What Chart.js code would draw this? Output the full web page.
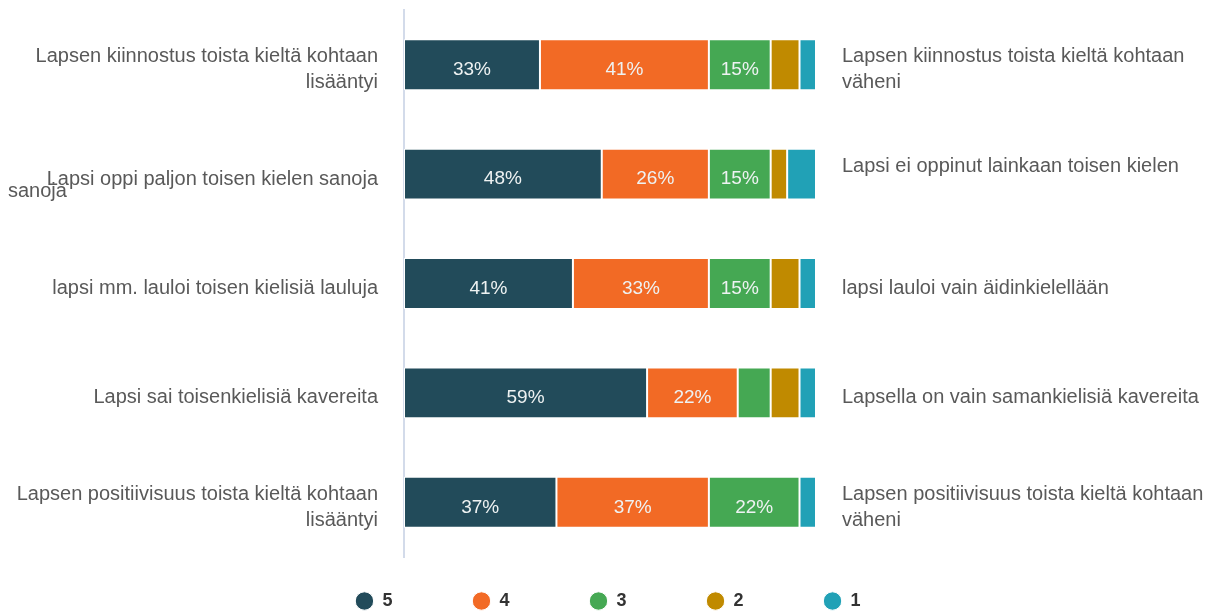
<!DOCTYPE html>
<html>
<head>
<meta charset="utf-8">
<script src="https://cdn.jsdelivr.net/npm/chart.js@4/dist/chart.umd.min.js"></script>
<style>
  html, body { margin: 0; padding: 0; background: #ffffff; }
  #wrap { width: 1208px; height: 611px; position: relative; }
</style>
</head>
<body>
<div id="wrap"><canvas id="c" width="1208" height="611"></canvas></div>
<script>
// ---- data ----
const leftLabels = [
  ["Lapsen kiinnostus toista kieltä kohtaan", "lisääntyi"],
  "Lapsi oppi paljon toisen kielen sanoja",
  "lapsi mm. lauloi toisen kielisiä lauluja",
  "Lapsi sai toisenkielisiä kavereita",
  ["Lapsen positiivisuus toista kieltä kohtaan", "lisääntyi"]
];
const rightLabels = [
  ["Lapsen kiinnostus toista kieltä kohtaan", "väheni"],
  ["Lapsi ei oppinut lainkaan toisen kielen", "sanoja"],
  "lapsi lauloi vain äidinkielellään",
  "Lapsella on vain samankielisiä kavereita",
  ["Lapsen positiivisuus toista kieltä kohtaan", "väheni"]
];
const seriesNames = ["5", "4", "3", "2", "1"];
const values5 = [33, 48, 41, 59, 37];
const values4 = [41, 26, 33, 22, 37];
const values3 = [15, 15, 15, 8, 22];
const values2 = [7, 4, 7, 7, 0];
const values1 = [4, 7, 4, 4, 4];
const colors = ["#224b5a", "#f26a25", "#45a853", "#c08a00", "#21a1b6"];

const allValues = [values5, values4, values3, values2, values1];
const TXT = "#595959";
const FONT = "'Liberation Sans', Arial, sans-serif";
const LABEL_SIZE = 20;
const LABEL_LH = 1.28;
const LABEL_DY = 5;
const LEFT_PAD = 8;

const datasets = allValues.map((v, i) => ({
  label: seriesNames[i],
  data: v,
  backgroundColor: colors[i],
  borderColor: "#ffffff",
  borderWidth: 1,
  borderSkipped: false,
  barPercentage: 0.465,
  categoryPercentage: 1.0
}));

// value labels inside bars
const valueLabels = {
  id: "valueLabels",
  afterDatasetsDraw(chart) {
    const ctx = chart.ctx;
    ctx.save();
    ctx.font = "19px " + FONT;
    ctx.fillStyle = "#eef2f2";
    ctx.textAlign = "center";
    ctx.textBaseline = "middle";
    chart.data.datasets.forEach((ds, di) => {
      const meta = chart.getDatasetMeta(di);
      meta.data.forEach((el, i) => {
        const v = ds.data[i];
        if (v >= 10) {
          const p = el.getCenterPoint();
          ctx.fillText(v + "%", p.x, p.y + 5);
        }
      });
    });
    ctx.restore();
  }
};

// the second line of the second right-hand label appears at the far left in the reference
const strayLine = {
  id: "strayLine",
  afterDraw(chart) {
    const s = chart.scales.y2;
    const lab = rightLabels[1];
    const ctx = chart.ctx;
    ctx.save();
    ctx.font = LABEL_SIZE + "px " + FONT;
    ctx.fillStyle = TXT;
    ctx.textAlign = "left";
    ctx.textBaseline = "middle";
    const lh = LABEL_SIZE * LABEL_LH;
    ctx.fillText(lab[1], 8, s.getPixelForTick(1) + lh / 2 + LABEL_DY);
    ctx.restore();
  }
};

function fixScale(scale) {
  scale.paddingTop = 0;
  scale.paddingBottom = 0;
  if (!scale._shifted) {
    const orig = scale.drawLabels;
    scale.drawLabels = function (ca) {
      const c = this.ctx;
      c.save();
      c.translate(0, LABEL_DY);
      orig.call(this, ca);
      c.restore();
    };
    scale._shifted = true;
  }
}

new Chart(document.getElementById("c"), {
  type: "bar",
  data: { labels: leftLabels, datasets },
  plugins: [valueLabels, strayLine],
  options: {
    indexAxis: "y",
    responsive: false,
    animation: false,
    layout: { padding: { top: 10, left: LEFT_PAD, right: 0, bottom: 0 } },
    plugins: {
      tooltip: { enabled: false },
      legend: {
        position: "bottom",
        maxHeight: 54,
        labels: {
          usePointStyle: true,
          pointStyle: "circle",
          boxWidth: 18,
          boxHeight: 13,
          padding: 35,
          color: "#333333",
          font: { family: FONT, size: 18, weight: "bold" },
          generateLabels(chart) {
            const items = Chart.defaults.plugins.legend.labels.generateLabels(chart);
            items.forEach((it, i) => {
              if (i < items.length - 1) it.text = it.text + "         ";
            });
            return items;
          }
        }
      }
    },
    scales: {
      x: {
        stacked: true,
        min: 0,
        max: 100,
        display: false
      },
      y: {
        stacked: true,
        position: "left",
        grid: { display: false, drawTicks: false },
        border: { display: true, color: "#d3dbea", width: 2 },
        ticks: {
          padding: 26,
          color: TXT,
          font: { family: FONT, size: LABEL_SIZE, lineHeight: LABEL_LH }
        },
        afterFit(scale) { scale.width = 404 - LEFT_PAD; fixScale(scale); }
      },
      y2: {
        type: "category",
        labels: rightLabels,
        position: "right",
        offset: true,
        grid: { display: false, drawTicks: false },
        border: { display: false },
        ticks: {
          padding: 26,
          color: TXT,
          font: { family: FONT, size: LABEL_SIZE, lineHeight: LABEL_LH },
          callback(value, index) {
            const l = rightLabels[index];
            return index === 1 ? [l[0], ""] : l;
          }
        },
        afterFit(scale) { scale.width = 392; fixScale(scale); }
      }
    }
  }
});
</script>
</body>
</html>
